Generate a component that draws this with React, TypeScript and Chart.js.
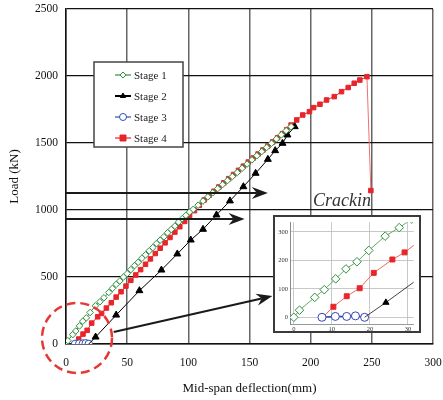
import React, { useEffect, useRef } from "react";
import { Chart, registerables } from "chart.js";
Chart.register(...registerables);

const FONT = "'Liberation Serif', 'Times New Roman', serif";

// ---- data (deflection mm, load kN) ----
const stage1X = [0, 1.5, 5.5, 8, 11, 13.7, 16.6, 19.7, 24, 27.7, 31, 35, 38, 41, 44, 47, 50, 53, 56, 59, 62, 65, 68, 71, 74, 77, 80, 83, 86, 89, 92, 95, 98, 101, 104, 108, 112, 116, 120, 124, 128, 132, 136, 140, 144, 148, 152, 156, 160, 164, 168, 172, 176, 180, 184];
const stage1Y = [0, 25, 70, 97, 135, 170, 195, 235, 285, 315, 345, 385, 415, 445, 470, 500, 525, 555, 585, 610, 640, 665, 695, 720, 750, 775, 800, 830, 855, 880, 910, 935, 960, 985, 1005, 1036, 1067, 1098, 1129, 1160, 1190, 1220, 1250, 1280, 1312, 1343, 1374, 1405, 1436, 1467, 1498, 1530, 1561, 1592, 1622];

const stage2X = [18.6, 24.2, 41, 60, 78, 91, 102, 112, 123, 134, 145, 155, 165, 171, 177, 181, 187];
const stage2Y = [0, 52, 216, 398, 552, 672, 776, 856, 963, 1068, 1174, 1274, 1378, 1443, 1498, 1560, 1622];

const stage3X = [7.4, 10.9, 13.9, 16.2, 18.6];
const stage3Y = [0, 3, 3, 5, 0];

const stage4X = [7.6, 10.4, 13.9, 17.3, 21, 25.9, 29.1, 33, 37, 41, 45, 49, 53, 57, 61, 65, 69, 73, 77, 81, 85, 89, 93, 97, 101, 105, 109, 113, 117, 121, 125, 129, 133, 137, 141, 145, 149, 153, 157, 161, 165, 169, 173, 177, 180.5, 184, 188.6, 193.5, 199, 202.4, 207.6, 213, 219.3, 225.2, 230.7, 235.6, 240.2, 246, 249.2];
const stage4Y = [0, 37, 74, 102, 156, 203, 228, 268, 308, 350, 390, 432, 475, 515, 555, 595, 635, 675, 715, 755, 795, 835, 875, 915, 955, 995, 1035, 1075, 1110, 1140, 1172, 1203, 1234, 1265, 1296, 1327, 1358, 1388, 1418, 1448, 1478, 1508, 1540, 1570, 1600, 1634, 1672, 1709, 1734, 1764, 1789, 1821, 1846, 1883, 1914, 1946, 1970, 1995, 1145];

const seriesNames = ["Stage 1", "Stage 2", "Stage 3", "Stage 4"];
const xTicks = [0, 50, 100, 150, 200, 250, 300];
const yTicks = [0, 500, 1000, 1500, 2000, 2500];
const insetXTicks = [0, 10, 20, 30];
const insetYTicks = [0, 100, 200, 300];
const annotationText = "Crackin";

const pts = (xs: number[], ys: number[]) => xs.map((x, i) => ({ x, y: ys[i] }));

function drawArrow(ctx: CanvasRenderingContext2D, x0: number, y0: number, x1: number, y1: number) {
  const ang = Math.atan2(y1 - y0, x1 - x0);
  const L = 16, W = 6, N = 5;
  ctx.strokeStyle = "#1a1a1a";
  ctx.fillStyle = "#1a1a1a";
  ctx.lineWidth = 2;
  ctx.beginPath();
  ctx.moveTo(x0, y0);
  ctx.lineTo(x1 - Math.cos(ang) * (L - N), y1 - Math.sin(ang) * (L - N));
  ctx.stroke();
  ctx.save();
  ctx.translate(x1, y1);
  ctx.rotate(ang);
  ctx.beginPath();
  ctx.moveTo(0, 0);
  ctx.lineTo(-L, W);
  ctx.lineTo(-L + N, 0);
  ctx.lineTo(-L, -W);
  ctx.closePath();
  ctx.fill();
  ctx.restore();
}

const styles = [
  { color: "#2f8f3f", fill: "#ffffff", shape: "rectRot", r: 3.3 },
  { color: "#000000", fill: "#000000", shape: "triangle", r: 4 },
  { color: "#3050b0", fill: "#ffffff", shape: "circle", r: 3.8 },
  { color: "#e8252a", fill: "#e8252a", shape: "rect", r: 3.2 },
];

function drawMarker(ctx: CanvasRenderingContext2D, shape: string, cx: number, cy: number, r: number, stroke: string, fill: string) {
  ctx.beginPath();
  if (shape === "rectRot") {
    ctx.moveTo(cx, cy - r); ctx.lineTo(cx + r, cy); ctx.lineTo(cx, cy + r); ctx.lineTo(cx - r, cy); ctx.closePath();
  } else if (shape === "triangle") {
    ctx.moveTo(cx, cy - r); ctx.lineTo(cx + r * 0.87, cy + r * 0.5); ctx.lineTo(cx - r * 0.87, cy + r * 0.5); ctx.closePath();
  } else if (shape === "circle") {
    ctx.arc(cx, cy, r, 0, Math.PI * 2);
  } else {
    ctx.rect(cx - r, cy - r, 2 * r, 2 * r);
  }
  ctx.fillStyle = fill; ctx.fill();
  ctx.strokeStyle = stroke; ctx.lineWidth = 1; ctx.stroke();
}

const annotPlugin = {
  id: "annot",
  afterDatasetsDraw(chart: any) {
    const { ctx, scales } = chart;
    const x = scales.x, y = scales.y;
    ctx.save();
    // dashed circle around the origin
    ctx.strokeStyle = "#e53935";
    ctx.lineWidth = 2.5;
    ctx.setLineDash([9, 5]);
    ctx.beginPath();
    ctx.arc(x.getPixelForValue(9), y.getPixelForValue(45), 35, 0, Math.PI * 2);
    ctx.stroke();
    ctx.setLineDash([]);
    // arrows
    const arrows = [
      [0, 1127, 165, 1127],
      [0, 933, 146, 933],
      [39, 90, 168.7, 358],
    ];
    arrows.forEach(([a, b, c, d]) =>
      drawArrow(ctx, x.getPixelForValue(a), y.getPixelForValue(b), x.getPixelForValue(c), y.getPixelForValue(d))
    );
    // text
    ctx.font = `italic 18px ${FONT}`;
    ctx.fillStyle = "#333";
    ctx.textAlign = "left";
    ctx.textBaseline = "alphabetic";
    ctx.fillText(annotationText, x.getPixelForValue(202), y.getPixelForValue(1030));
    // legend
    const lx = 94, ly = 62, lw = 89, lh = 85;
    ctx.fillStyle = "#fff";
    ctx.fillRect(lx, ly, lw, lh);
    ctx.strokeStyle = "#444";
    ctx.lineWidth = 1.5;
    ctx.strokeRect(lx, ly, lw, lh);
    ctx.font = `11px ${FONT}`;
    ctx.textBaseline = "middle";
    seriesNames.forEach((name, i) => {
      const cy = 75 + i * 21;
      const s = styles[i];
      ctx.strokeStyle = s.color;
      ctx.lineWidth = i === 1 ? 2 : 1.2;
      ctx.beginPath();
      ctx.moveTo(115, cy);
      ctx.lineTo(131, cy);
      ctx.stroke();
      drawMarker(ctx, s.shape, 123, cy, i === 2 ? 3.5 : 3, s.color, s.fill);
      ctx.fillStyle = "#222";
      ctx.fillText(name, 134, cy + 1);
    });
    ctx.restore();
  },
};

function makeDatasets(inset: boolean) {
  const data = [pts(stage1X, stage1Y), pts(stage2X, stage2Y), pts(stage3X, stage3Y), pts(stage4X, stage4Y)];
  const lineColors = inset ? ["#55a055", "#111", "#3344aa", "#f26a50"] : ["#2f8f3f", "#000", "#3050b0", "#e8252a"];
  return data.map((d, i) => {
    const s = styles[i];
    const baseR = inset ? [4.3, 3.6, 4, 3.5][i] : s.r;
    return {
      label: seriesNames[i],
      data: d,
      showLine: true,
      tension: 0,
      borderColor: lineColors[i],
      borderWidth: inset ? [0.9, 0.8, 1.6, 1][i] : [1, 1, 1.4, 1][i],
      pointStyle: s.shape,
      pointRadius: i === 1 ? d.map((_, k) => (k === 0 ? 0 : baseR)) : baseR,
      pointBackgroundColor: s.fill,
      pointBorderColor: inset && i === 2 ? "#3344bb" : s.color,
      pointBorderWidth: 1,
      segment: i === 3 ? { borderColor: (c: any) => (c.p1DataIndex === d.length - 1 ? "#f07070" : undefined) } : undefined,
    };
  });
}

const noPadH = (s: any) => { s.paddingLeft = 0; s.paddingRight = 0; };
const noPadV = (s: any) => { s.paddingTop = 0; s.paddingBottom = 0; };
const plain = (v: any) => String(v);

function MainChart() {
  const ref = useRef<HTMLCanvasElement>(null);
  useEffect(() => {
    const chart = new Chart(ref.current as HTMLCanvasElement, {
      type: "scatter",
      data: { datasets: makeDatasets(false) as any },
      options: {
        responsive: false,
        animation: false,
        layout: { padding: { top: 9, right: 10, left: 0, bottom: 0 } },
        plugins: { legend: { display: false }, tooltip: { enabled: false } },
        scales: {
          x: {
            type: "linear",
            min: 0,
            max: 300,
            afterBuildTicks: (s: any) => { s.ticks = xTicks.map((v) => ({ value: v })); },
            afterFit: (s: any) => { s.height = 56; noPadH(s); },
            grid: { color: "#666", lineWidth: 1.5, drawTicks: false },
            border: { color: "#111", width: 1.5 },
            ticks: { padding: 12, color: "#111", font: { family: FONT, size: 11.5 }, callback: plain },
            title: { display: true, text: "Mid-span deflection(mm)", color: "#111", font: { family: FONT, size: 13 }, padding: { top: 0, bottom: 4 } },
          },
          y: {
            type: "linear",
            min: 0,
            max: 2500,
            afterBuildTicks: (s: any) => { s.ticks = yTicks.map((v) => ({ value: v })); },
            afterFit: (s: any) => { s.width = 66; noPadV(s); },
            grid: { color: "#111", lineWidth: 1.2, drawTicks: false },
            border: { color: "#111", width: 1.5 },
            ticks: { padding: 8, color: "#111", font: { family: FONT, size: 11.5 }, callback: plain },
            title: { display: true, text: "Load (kN)", color: "#111", font: { family: FONT, size: 13 }, padding: { top: 7, bottom: 0 } },
          },
        },
      },
      plugins: [annotPlugin],
    } as any);
    return () => chart.destroy();
  }, []);
  return <canvas ref={ref} width={443} height={400} style={{ position: "absolute", left: 0, top: 0, width: 443, height: 400 }} />;
}

function InsetChart() {
  const ref = useRef<HTMLCanvasElement>(null);
  useEffect(() => {
    const chart = new Chart(ref.current as HTMLCanvasElement, {
      type: "scatter",
      data: { datasets: makeDatasets(true) as any },
      options: {
        responsive: false,
        animation: false,
        layout: { padding: { top: 1, right: 0, left: 0, bottom: 0 } },
        plugins: { legend: { display: false }, tooltip: { enabled: false } },
        scales: {
          x: {
            type: "linear",
            min: -1,
            max: 31.5,
            afterBuildTicks: (s: any) => { s.ticks = insetXTicks.map((v) => ({ value: v })); },
            afterFit: (s: any) => { s.height = 7; noPadH(s); },
            grid: { color: "#bbb", lineWidth: 0.8, drawTicks: false },
            border: { color: "#999", width: 1 },
            ticks: { padding: 1, color: "#333", font: { family: FONT, size: 6.5 }, callback: plain },
          },
          y: {
            type: "linear",
            min: -23.6,
            max: 333.7,
            afterBuildTicks: (s: any) => { s.ticks = insetYTicks.map((v) => ({ value: v })); },
            afterFit: (s: any) => { s.width = 15; noPadV(s); },
            grid: { color: "#bbb", lineWidth: 0.8, drawTicks: false },
            border: { color: "#888", width: 1 },
            ticks: { padding: 2, color: "#333", font: { family: FONT, size: 6.5 }, callback: plain },
          },
        },
      },
    } as any);
    return () => chart.destroy();
  }, []);
  return (
    <div style={{ position: "absolute", left: 273, top: 215, border: "2px solid #3a3a3a", background: "#fff", width: 144, height: 114 }}>
      <canvas ref={ref} width={144} height={114} style={{ display: "block", width: 144, height: 114 }} />
    </div>
  );
}

export default function App() {
  return (
    <div style={{ position: "absolute", left: 0, top: 0, width: 443, height: 400, background: "#fff" }}>
      <MainChart />
      <InsetChart />
    </div>
  );
}
